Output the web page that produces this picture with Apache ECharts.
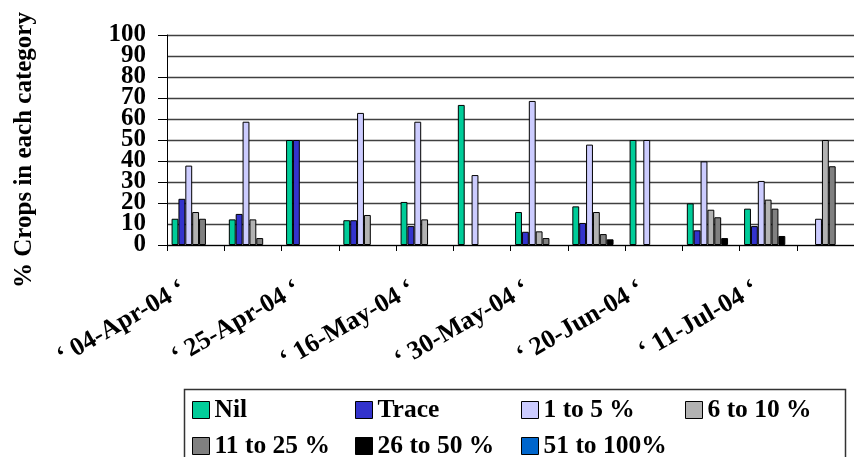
<!DOCTYPE html>
<html>
<head>
<meta charset="utf-8">
<script src="https://cdn.jsdelivr.net/npm/echarts@6/dist/echarts.min.js"></script>
<style>
html,body{margin:0;padding:0;background:#fff;}
#chart{width:854px;height:457px;}
</style>
</head>
<body>
<div id="chart"></div>
<script>
// ---- Data ----
const categories = ["‘ 04-Apr-04 ‘", "‘ 18-Apr-04 ‘", "‘ 25-Apr-04 ‘", "‘ 02-May-04 ‘", "‘ 16-May-04 ‘", "‘ 23-May-04 ‘",
                    "‘ 30-May-04 ‘", "‘ 06-Jun-04 ‘", "‘ 20-Jun-04 ‘", "‘ 27-Jun-04 ‘", "‘ 11-Jul-04 ‘", "‘ 18-Jul-04 ‘"];
const seriesNames = ["Nil", "Trace", "1 to 5 %", "6 to 10 %", "11 to 25 %", "26 to 50 %", "51 to 100%"];
const nilVals     = [12.5, 12.2, 50, 11.8, 20.5, 66.7, 15.7, 18.4, 50, 19.8, 17.3, null];
const traceVals   = [22, 14.8, 50, 11.8, 9, null, 6.3, 10.5, null, 7, 9, null];
const p1to5Vals   = [37.8, 58.7, null, 62.9, 58.7, 33.3, 68.6, 47.8, 50, 39.8, 30.5, 12.5];
const p6to10Vals  = [15.7, 12.2, null, 14.3, 12.2, null, 6.5, 15.7, null, 16.8, 21.6, 50];
const p11to25Vals = [12.5, 3.3, null, null, null, null, 3.3, 5.2, null, 13.2, 17.3, 37.5];
const p26to50Vals = [null, null, null, null, null, null, null, 2.7, null, 3.3, 4.3, null];
const p51to100Vals= [null, null, null, null, null, null, null, null, null, null, null, null];
const yTicks = { min: 0, max: 100, interval: 10 };
// labels next to the end labels (ECharts hides them when end labels are crowded)
const yInnerEndTicks = [10, 90];

const seriesData = [nilVals, traceVals, p1to5Vals, p6to10Vals, p11to25Vals, p26to50Vals, p51to100Vals];
const colors = ["#00CC99", "#3333CC", "#CCCCFF", "#B2B2B2", "#808080", "#000000", "#0066CC"];
const FONT = "'Liberation Serif', 'Times New Roman', serif";

const chart = echarts.init(document.getElementById('chart'), null, { renderer: 'canvas' });

const legendText = { fontFamily: FONT, fontWeight: 'bold', fontSize: 25.5, color: '#000', lineHeight: 17 };
// legend grid: column x positions and row y positions
const legendCols = [192, 355, 521, 685];
const legendRows = [397, 433];
function mkLegend(name, idx) {
  const col = idx % 4, row = Math.floor(idx / 4);
  return { data: [name], orient: 'horizontal', left: legendCols[col], top: legendRows[row], padding: 0,
           itemWidth: 17, itemHeight: 17, icon: 'rect', textStyle: legendText,
           itemStyle: { borderColor: '#000', borderWidth: 1 } };
}
const legendOrder = ["Nil", "Trace", "1 to 5 %", "6 to 10 %", "11 to 25 %", "26 to 50 %", "51 to 100%"];

const yLabelStyle = { fontFamily: FONT, fontWeight: 'bold', fontSize: 25, color: '#000' };

chart.setOption({
  animation: false,
  backgroundColor: '#fff',
  color: colors,
  grid: { left: 167, top: 35, width: 696, height: 210, containLabel: false },
  legend: legendOrder.map(mkLegend),
  graphic: [{
    type: 'rect', left: 182, top: 387, z: -1,
    shape: { width: 661, height: 100 },
    style: { fill: 'none', stroke: '#333', lineWidth: 1.5 }
  }],
  xAxis: {
    type: 'category',
    data: categories,
    boundaryGap: true,
    axisLine: { lineStyle: { color: '#000', width: 1 } },
    axisTick: { show: true, interval: 0, length: 6, lineStyle: { color: '#000' } },
    axisLabel: { interval: 1, rotate: 30, margin: 35, padding: [0, 14, 0, 0],
                 fontFamily: FONT, fontWeight: 'bold', fontSize: 26, color: '#000' },
    splitLine: { show: false }
  },
  yAxis: [{
    type: 'value',
    min: yTicks.min, max: yTicks.max, interval: yTicks.interval,
    name: '% Crops in each category',
    nameLocation: 'middle',
    nameRotate: 90,
    nameGap: 130,
    nameTextStyle: { fontFamily: FONT, fontWeight: 'bold', fontSize: 25, color: '#000', padding: [0, 20, 0, 0] },
    axisLine: { show: true, lineStyle: { color: '#000', width: 1 } },
    axisTick: { show: true, length: 9, lineStyle: { color: '#000' } },
    axisLabel: Object.assign({ margin: 21, showMinLabel: true, showMaxLabel: true, hideOverlap: false }, yLabelStyle),
    splitLine: { show: true, lineStyle: { color: '#404040', width: 1.3 } }
  }, {
    type: 'value',
    position: 'left',
    offset: 0,
    min: yTicks.min, max: yTicks.max, interval: yTicks.interval,
    axisLine: { show: false },
    axisTick: { show: false },
    splitLine: { show: false },
    axisLabel: Object.assign({ margin: 21, showMinLabel: false, showMaxLabel: false, hideOverlap: false,
      formatter: v => (yInnerEndTicks.indexOf(v) >= 0 ? String(v) : '') }, yLabelStyle)
  }],
  series: seriesNames.map((n, i) => ({
    name: n,
    type: 'bar',
    yAxisIndex: 0,
    data: seriesData[i],
    barGap: '0%',
    barCategoryGap: '16%',
    itemStyle: { color: colors[i], borderColor: '#000', borderWidth: 1 }
  }))
});
</script>
</body>
</html>
